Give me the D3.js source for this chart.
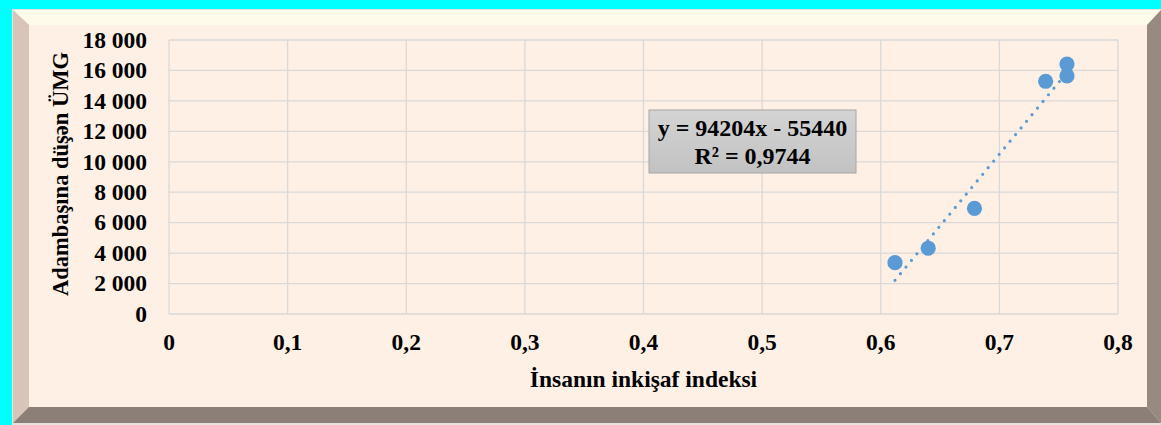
<!DOCTYPE html>
<html lang="az">
<head>
    <meta charset="UTF-8">
    <title>İnsanın inkişaf indeksi və ÜMG</title>
    <script src="https://d3js.org/d3.v7.min.js"></script>
    <style>
        * {
            margin: 0;
            padding: 0;
            box-sizing: border-box;
        }

        body {
            background: #00ffff;
            overflow: hidden;
        }

        #chart text {
            font-family: 'Liberation Serif', 'Times New Roman', serif;
            font-weight: bold;
            fill: #000;
        }
    </style>
</head>
<body>
    <div id="chart"></div>

    <script>
        // values
        const hdi = [0.612, 0.640, 0.679, 0.739, 0.757, 0.757];
        const gdpPerCapita = [3370, 4320, 6940, 15290, 16420, 15640];

        const xTicks = [0, 0.1, 0.2, 0.3, 0.4, 0.5, 0.6, 0.7, 0.8];
        const yTicks = [0, 2000, 4000, 6000, 8000, 10000, 12000, 14000, 16000, 18000];

        // linear trend shown on the chart
        const trendSlope = 94204;
        const trendIntercept = -55440;
        const trendR2 = '0,9744';

        const xTitle = 'İnsanın inkişaf indeksi';
        const yTitle = 'Adambaşına düşən ÜMG';

        const width = 1161;
        const height = 425;
        const plot = { left: 169, right: 1118, top: 40, bottom: 314 };

        const locale = d3.formatLocale({
            decimal: ',',
            thousands: ' ',
            grouping: [3],
            currency: ['', '']
        });
        const fmtY = locale.format(',d');
        const fmtX = v => v === 0 ? '0' : locale.format('.1f')(v);

        const svg = d3.select('#chart')
            .append('svg')
            .attr('width', width)
            .attr('height', height);

        // beveled frame
        const fo = { l: 13, t: 10, r: 1161, b: 423 };
        const fi = { l: 29, t: 25, r: 1147, b: 407 };

        svg.append('rect')
            .attr('x', fo.l - 1).attr('y', fo.t - 1)
            .attr('width', fo.r - fo.l + 1).attr('height', fo.b - fo.t + 3)
            .attr('fill', '#e6e2df');

        const bevels = [
            { pts: [[fo.l, fo.t], [fo.r, fo.t], [fi.r, fi.t], [fi.l, fi.t]], fill: '#fffbeb' },
            { pts: [[fo.l, fo.t], [fi.l, fi.t], [fi.l, fi.b], [fo.l, fo.b]], fill: '#d9c4b9' },
            { pts: [[fo.l, fo.b], [fi.l, fi.b], [fi.r, fi.b], [fo.r, fo.b]], fill: '#8b7f78' },
            { pts: [[fo.r, fo.t], [fi.r, fi.t], [fi.r, fi.b], [fo.r, fo.b]], fill: '#988a81' }
        ];
        svg.selectAll('.bevel')
            .data(bevels)
            .join('polygon')
            .attr('class', 'bevel')
            .attr('points', d => d.pts.map(p => p.join(',')).join(' '))
            .attr('fill', d => d.fill);

        svg.append('rect')
            .attr('x', fi.l).attr('y', fi.t)
            .attr('width', fi.r - fi.l).attr('height', fi.b - fi.t)
            .attr('fill', '#fef0e4');

        const x = d3.scaleLinear().domain([0, 0.8]).range([plot.left, plot.right]);
        const y = d3.scaleLinear().domain([0, 18000]).range([plot.bottom, plot.top]);

        // gridlines
        const grid = svg.append('g').attr('stroke', '#d9d9d9').attr('stroke-width', 1.3);
        grid.selectAll('.gx')
            .data(xTicks)
            .join('line')
            .attr('x1', d => x(d)).attr('x2', d => x(d))
            .attr('y1', plot.top).attr('y2', plot.bottom);
        grid.selectAll('.gy')
            .data(yTicks)
            .join('line')
            .attr('x1', plot.left).attr('x2', plot.right)
            .attr('y1', d => y(d)).attr('y2', d => y(d));

        // tick labels
        svg.append('g')
            .selectAll('text')
            .data(yTicks)
            .join('text')
            .attr('x', 147)
            .attr('y', d => y(d))
            .attr('dy', '0.33em')
            .attr('text-anchor', 'end')
            .style('font-size', '23.5px')
            .text(d => fmtY(d));

        svg.append('g')
            .selectAll('text')
            .data(xTicks)
            .join('text')
            .attr('x', d => x(d))
            .attr('y', 350)
            .attr('text-anchor', 'middle')
            .style('font-size', '23.5px')
            .text(d => fmtX(d));

        // axis titles
        svg.append('text')
            .attr('x', (plot.left + plot.right) / 2)
            .attr('y', 387)
            .attr('text-anchor', 'middle')
            .style('font-size', '23.5px')
            .text(xTitle);

        svg.append('text')
            .attr('transform', `translate(68,${(plot.top + plot.bottom) / 2 - 3}) rotate(-90)`)
            .attr('text-anchor', 'middle')
            .style('font-size', '22.5px')
            .text(yTitle);

        // trend line (dotted)
        const xMin = d3.min(hdi);
        const xMax = d3.max(hdi);
        svg.append('line')
            .attr('x1', x(xMin)).attr('y1', y(trendSlope * xMin + trendIntercept))
            .attr('x2', x(xMax)).attr('y2', y(trendSlope * xMax + trendIntercept))
            .attr('stroke', '#5b9bd5')
            .attr('stroke-width', 3.2)
            .attr('stroke-linecap', 'round')
            .attr('stroke-dasharray', '0 8.6');

        // points
        svg.append('g')
            .selectAll('circle')
            .data(hdi.map((v, i) => [v, gdpPerCapita[i]]))
            .join('circle')
            .attr('cx', d => x(d[0]))
            .attr('cy', d => y(d[1]))
            .attr('r', 7.6)
            .attr('fill', '#5b9bd5');

        // equation label
        const defs = svg.append('defs');
        const grad = defs.append('linearGradient')
            .attr('id', 'eqFill')
            .attr('x1', 0).attr('y1', 0).attr('x2', 0).attr('y2', 1);
        grad.append('stop').attr('offset', 0).attr('stop-color', '#d4d4d4');
        grad.append('stop').attr('offset', 1).attr('stop-color', '#c2c2c2');

        const eq = svg.append('g');
        eq.append('rect')
            .attr('x', 649).attr('y', 110)
            .attr('width', 207).attr('height', 63)
            .attr('fill', 'url(#eqFill)')
            .attr('stroke', '#a6a6a6')
            .attr('stroke-width', 1);
        eq.append('text')
            .attr('x', 752.5).attr('y', 136)
            .attr('text-anchor', 'middle')
            .style('font-size', '24px')
            .text(`y = ${trendSlope}x - ${Math.abs(trendIntercept)}`);
        eq.append('text')
            .attr('x', 752.5).attr('y', 164)
            .attr('text-anchor', 'middle')
            .style('font-size', '24px')
            .text(`R² = ${trendR2}`);
    </script>
</body>
</html>
